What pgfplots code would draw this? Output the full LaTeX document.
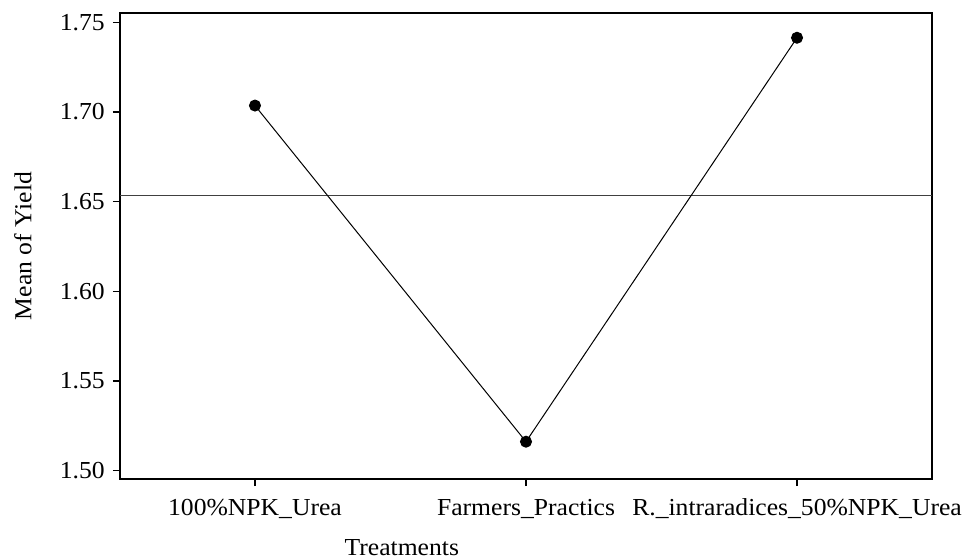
\documentclass[border=0pt]{standalone}
\usepackage{fontspec}
\setmainfont{Liberation Serif}[FakeStretch=1.05]
\usepackage{pgfplots}
\pgfplotsset{compat=1.18}
\begin{document}
\fontsize{24.5}{29}\selectfont
\begin{tikzpicture}
\useasboundingbox (-120bp,-81bp) rectangle (851bp,479bp);
\begin{axis}[
  at={(0,0)}, anchor=south west,
  scale only axis, width=812bp, height=466bp,
  xmin=-0.498, xmax=2.498, ymin=1.4954, ymax=1.7552,
  xtick={0,1,2},
  xticklabels={100\%NPK\_Urea, Farmers\_Practics, R.\_intraradices\_50\%NPK\_Urea},
  ytick={1.50,1.55,1.60,1.65,1.70,1.75},
  yticklabel style={/pgf/number format/.cd, fixed, fixed zerofill, precision=2},
  /pgf/number format/assume math mode=true,
  tick align=outside, tick pos=left,
  major tick length=7bp,
  axis line style={line width=1.2bp},
  every tick/.style={line width=1.2bp, black},
  xticklabel style={anchor=base, yshift=-29bp},
  xlabel={Treatments},
  ylabel={Mean of Yield},
  xlabel style={at={(axis description cs:0.347,-0.1635)}, anchor=base},
  ylabel style={at={(axis description cs:-0.1195,0.5)}, anchor=center},
  ticklabel style={font=\fontsize{24.5}{29}\selectfont},
  label style={font=\fontsize{24.5}{29}\selectfont},
  clip=false,
]
\addplot[black!75, line width=1bp, forget plot] coordinates {(-0.498,1.6537) (2.498,1.6537)};
\addplot[black, line width=1bp, mark=*, mark size=5.5bp, mark options={fill=black}] coordinates {
  (0,1.7036) (1,1.5162) (2,1.7414)
};
\end{axis}
\end{tikzpicture}
\end{document}
